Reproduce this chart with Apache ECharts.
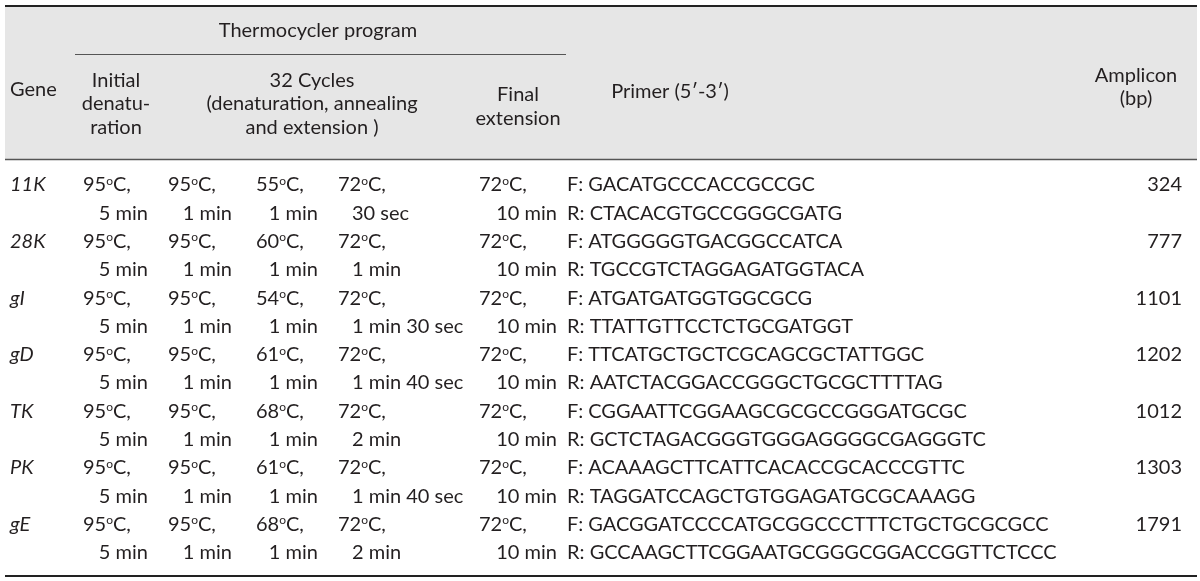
<!DOCTYPE html>
<html><head><meta charset="utf-8">
<script src="https://cdn.jsdelivr.net/npm/echarts@6/dist/echarts.min.js"></script>
<style>html,body{margin:0;padding:0;background:#fff}#c{width:1200px;height:581px}</style>
</head><body><div id="c"></div>
<script>
// ---- table content ----
const genes = ['11K', '28K', 'gI', 'gD', 'TK', 'PK', 'gE'];
const initTemp = [95, 95, 95, 95, 95, 95, 95];
const initTime = ['5 min', '5 min', '5 min', '5 min', '5 min', '5 min', '5 min'];
const denTemp = [95, 95, 95, 95, 95, 95, 95];
const denTime = ['1 min', '1 min', '1 min', '1 min', '1 min', '1 min', '1 min'];
const annTemp = [55, 60, 54, 61, 68, 61, 68];
const annTime = ['1 min', '1 min', '1 min', '1 min', '1 min', '1 min', '1 min'];
const extTemp = [72, 72, 72, 72, 72, 72, 72];
const extTime = ['30 sec', '1 min', '1 min 30 sec', '1 min 40 sec', '2 min', '1 min 40 sec', '2 min'];
const finalTemp = [72, 72, 72, 72, 72, 72, 72];
const finalTime = ['10 min', '10 min', '10 min', '10 min', '10 min', '10 min', '10 min'];
const primerF = ['GACATGCCCACCGCCGC', 'ATGGGGGTGACGGCCATCA', 'ATGATGATGGTGGCGCG',
  'TTCATGCTGCTCGCAGCGCTATTGGC', 'CGGAATTCGGAAGCGCGCCGGGATGCGC',
  'ACAAAGCTTCATTCACACCGCACCCGTTC', 'GACGGATCCCCATGCGGCCCTTTCTGCTGCGCGCC'];
const primerR = ['CTACACGTGCCGGGCGATG', 'TGCCGTCTAGGAGATGGTACA', 'TTATTGTTCCTCTGCGATGGT',
  'AATCTACGGACCGGGCTGCGCTTTTAG', 'GCTCTAGACGGGTGGGAGGGGCGAGGGTC',
  'TAGGATCCAGCTGTGGAGATGCGCAAAGG', 'GCCAAGCTTCGGAATGCGGGCGGACCGGTTCTCCC'];
const amplicon = [324, 777, 1101, 1202, 1012, 1303, 1791];

const headerGroup = 'Thermocycler program';
const headerGene = 'Gene';
const headerInit = ['Initial', 'denatu-', 'ration'];
const headerCycles = ['32 Cycles', '(denaturation, annealing', 'and extension )'];
const headerFinal = ['Final', 'extension'];
const headerPrimer = 'Primer (5\u2032-3\u2032)';
const headerAmp = ['Amplicon', '(bp)'];

// ---- layout ----
const FONT = 'Lato';
const FS = 20;
const INK = '#231f20';
const COL = {
  gene: 10, initT: 83, initR: 148, denT: 168, denR: 232, annT: 256, annR: 318,
  extT: 338, extL: 352, finT: 479, finR: 557, primer: 567, amp: 1182
};

function degText(v) { return v + '{o|o}C,'; }
const degRich = { o: { fontSize: 12, lineHeight: 10, verticalAlign: 'top', fontFamily: FONT, fill: INK } };

function txt(x, y, text, align, extra) {
  const st = Object.assign({
    text: text, x: x, y: y, fill: INK, fontSize: FS, fontFamily: FONT,
    align: align, textAlign: align, verticalAlign: 'middle', textVerticalAlign: 'middle',
    lineHeight: 20
  }, extra || {});
  return { type: 'text', style: st };
}

const chart = echarts.init(document.getElementById('c'), null, { renderer: 'canvas' });

function headerText(x, y, text, align) {
  return { type: 'text', z: 5, style: {
    text: text, x: x, y: y, fill: INK, font: FS + 'px ' + FONT,
    align: align || 'center', textAlign: align || 'center',
    verticalAlign: 'middle', textVerticalAlign: 'middle' } };
}
const graphics = [
  { type: 'rect', z: 0, shape: { x: 5, y: 7, width: 1192, height: 152 }, style: { fill: '#e6e6e6' } },
  { type: 'line', z: 4, shape: { x1: 5, y1: 6, x2: 1197, y2: 6 }, style: { stroke: '#222', lineWidth: 2 } },
  { type: 'line', z: 4, shape: { x1: 75, y1: 54.5, x2: 566, y2: 54.5 }, style: { stroke: '#555', lineWidth: 1.2 } },
  { type: 'line', z: 4, shape: { x1: 5, y1: 159.5, x2: 1197, y2: 159.5 }, style: { stroke: '#555', lineWidth: 1.6 } },
  { type: 'line', z: 4, shape: { x1: 5, y1: 576, x2: 1197, y2: 576 }, style: { stroke: '#222', lineWidth: 2 } },
  headerText(318, 31, headerGroup),
  headerText(10, 90, headerGene, 'left'),
  headerText(116, 81, headerInit[0]), headerText(116, 104, headerInit[1]), headerText(116, 128, headerInit[2]),
  headerText(312, 81, headerCycles[0]), headerText(312, 104, headerCycles[1]), headerText(312, 128, headerCycles[2]),
  headerText(518, 95, headerFinal[0]), headerText(518, 119, headerFinal[1]),
  headerText(670, 92, headerPrimer),
  headerText(1136, 76, headerAmp[0]), headerText(1136, 99, headerAmp[1])
];

chart.setOption({
  animation: false,
  grid: { left: 0, right: 0, top: 160, bottom: 5 },
  xAxis: { type: 'value', min: 0, max: 1200, show: false },
  yAxis: { type: 'value', min: -0.88, max: 13.82, inverse: true, show: false },
  graphic: graphics,
  series: [{
    type: 'custom',
    coordinateSystem: 'cartesian2d',
    data: genes.map((g, i) => [i]),
    renderItem: function (params, api) {
      const i = api.value(0);
      const y1 = api.coord([0, 2 * i])[1];
      const y2 = api.coord([0, 2 * i + 1])[1];
      const X = v => api.coord([v, 0])[0];
      const ch = [];
      ch.push(txt(X(COL.gene), y1, genes[i], 'left', { fontStyle: 'italic' }));
      ch.push(txt(X(COL.initT), y1, degText(initTemp[i]), 'left', { rich: degRich }));
      ch.push(txt(X(COL.initR), y2, initTime[i], 'right'));
      ch.push(txt(X(COL.denT), y1, degText(denTemp[i]), 'left', { rich: degRich }));
      ch.push(txt(X(COL.denR), y2, denTime[i], 'right'));
      ch.push(txt(X(COL.annT), y1, degText(annTemp[i]), 'left', { rich: degRich }));
      ch.push(txt(X(COL.annR), y2, annTime[i], 'right'));
      ch.push(txt(X(COL.extT), y1, degText(extTemp[i]), 'left', { rich: degRich }));
      ch.push(txt(X(COL.extL), y2, extTime[i], 'left'));
      ch.push(txt(X(COL.finT), y1, degText(finalTemp[i]), 'left', { rich: degRich }));
      ch.push(txt(X(COL.finR), y2, finalTime[i], 'right'));
      ch.push(txt(X(COL.primer), y1, 'F: ' + primerF[i], 'left'));
      ch.push(txt(X(COL.primer), y2, 'R: ' + primerR[i], 'left'));
      ch.push(txt(X(COL.amp), y1, String(amplicon[i]), 'right'));
      return { type: 'group', children: ch };
    }
  }]
});
</script></body></html>
